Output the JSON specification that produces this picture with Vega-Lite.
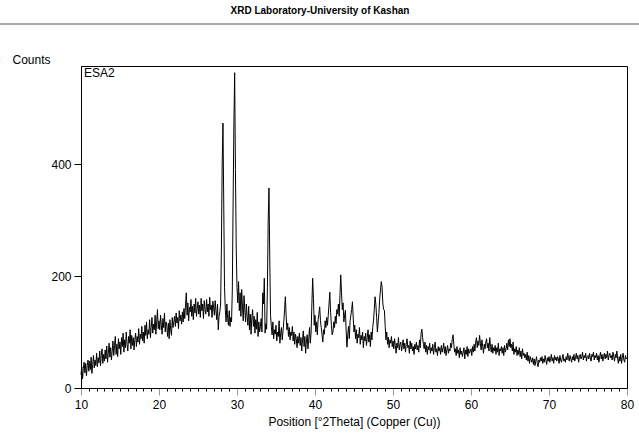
{
  "$schema": "https://vega.github.io/schema/vega-lite/v6.json",
  "autosize": "none",
  "width": 546,
  "height": 322,
  "padding": {"left": 81, "top": 66, "right": 12, "bottom": 59},
  "background": "white",
  "title": {
    "text": "XRD Laboratory-University of Kashan",
    "font": "Liberation Sans",
    "fontSize": 10,
    "fontWeight": "bold",
    "color": "black",
    "anchor": "middle",
    "dx": -34,
    "offset": 8
  },
  "config": {
    "view": {"stroke": "black", "strokeWidth": 1},
    "axis": {
      "grid": false,
      "domainColor": "black",
      "tickColor": "black",
      "labelColor": "black",
      "titleColor": "black",
      "labelFont": "Liberation Sans",
      "titleFont": "Liberation Sans",
      "labelFontSize": 12,
      "titleFontSize": 12,
      "titleFontWeight": "normal"
    }
  },
  "datasets": {
    "scan": [
      {"t":10.0,"c":24},{"t":10.1,"c":38},{"t":10.2,"c":16},{"t":10.3,"c":35},{"t":10.4,"c":46},{"t":10.5,"c":27},{"t":10.6,"c":44},{"t":10.7,"c":22},{"t":10.8,"c":40},{"t":10.9,"c":50},
      {"t":11.0,"c":30},{"t":11.1,"c":48},{"t":11.2,"c":33},{"t":11.3,"c":55},{"t":11.4,"c":26},{"t":11.5,"c":42},{"t":11.6,"c":58},{"t":11.7,"c":36},{"t":11.8,"c":50},{"t":11.9,"c":40},
      {"t":12.0,"c":62},{"t":12.1,"c":38},{"t":12.2,"c":54},{"t":12.3,"c":45},{"t":12.4,"c":66},{"t":12.5,"c":40},{"t":12.6,"c":58},{"t":12.7,"c":70},{"t":12.8,"c":44},{"t":12.9,"c":60},
      {"t":13.0,"c":48},{"t":13.1,"c":68},{"t":13.2,"c":52},{"t":13.3,"c":75},{"t":13.4,"c":46},{"t":13.5,"c":62},{"t":13.6,"c":80},{"t":13.7,"c":55},{"t":13.8,"c":72},{"t":13.9,"c":50},
      {"t":14.0,"c":66},{"t":14.1,"c":84},{"t":14.2,"c":58},{"t":14.3,"c":76},{"t":14.4,"c":92},{"t":14.5,"c":60},{"t":14.6,"c":78},{"t":14.7,"c":56},{"t":14.8,"c":88},{"t":14.9,"c":70},
      {"t":15.0,"c":82},{"t":15.1,"c":60},{"t":15.2,"c":90},{"t":15.3,"c":74},{"t":15.4,"c":98},{"t":15.5,"c":64},{"t":15.6,"c":86},{"t":15.7,"c":72},{"t":15.8,"c":100},{"t":15.9,"c":78},
      {"t":16.0,"c":66},{"t":16.1,"c":92},{"t":16.2,"c":80},{"t":16.3,"c":104},{"t":16.4,"c":70},{"t":16.5,"c":94},{"t":16.6,"c":76},{"t":16.7,"c":90},{"t":16.8,"c":68},{"t":16.9,"c":86},
      {"t":17.0,"c":98},{"t":17.1,"c":74},{"t":17.2,"c":92},{"t":17.3,"c":82},{"t":17.4,"c":106},{"t":17.5,"c":78},{"t":17.6,"c":96},{"t":17.7,"c":88},{"t":17.8,"c":110},{"t":17.9,"c":84},
      {"t":18.0,"c":100},{"t":18.1,"c":80},{"t":18.2,"c":112},{"t":18.3,"c":94},{"t":18.4,"c":118},{"t":18.5,"c":88},{"t":18.6,"c":104},{"t":18.7,"c":96},{"t":18.8,"c":122},{"t":18.9,"c":90},
      {"t":19.0,"c":108},{"t":19.1,"c":126},{"t":19.2,"c":98},{"t":19.3,"c":114},{"t":19.4,"c":104},{"t":19.5,"c":130},{"t":19.6,"c":96},{"t":19.7,"c":118},{"t":19.8,"c":140},{"t":19.9,"c":106},
      {"t":20.0,"c":120},{"t":20.1,"c":104},{"t":20.2,"c":130},{"t":20.3,"c":112},{"t":20.4,"c":96},{"t":20.5,"c":124},{"t":20.6,"c":108},{"t":20.7,"c":134},{"t":20.8,"c":100},{"t":20.9,"c":118},
      {"t":21.0,"c":110},{"t":21.1,"c":92},{"t":21.2,"c":116},{"t":21.3,"c":88},{"t":21.4,"c":122},{"t":21.5,"c":104},{"t":21.6,"c":94},{"t":21.7,"c":126},{"t":21.8,"c":108},{"t":21.9,"c":118},
      {"t":22.0,"c":128},{"t":22.1,"c":110},{"t":22.2,"c":134},{"t":22.3,"c":116},{"t":22.4,"c":126},{"t":22.5,"c":106},{"t":22.6,"c":138},{"t":22.7,"c":120},{"t":22.8,"c":130},{"t":22.9,"c":114},
      {"t":23.0,"c":136},{"t":23.1,"c":118},{"t":23.2,"c":142},{"t":23.3,"c":124},{"t":23.4,"c":148},{"t":23.5,"c":170},{"t":23.6,"c":130},{"t":23.7,"c":152},{"t":23.8,"c":120},{"t":23.9,"c":144},
      {"t":24.0,"c":136},{"t":24.1,"c":158},{"t":24.2,"c":128},{"t":24.3,"c":146},{"t":24.4,"c":122},{"t":24.5,"c":150},{"t":24.6,"c":134},{"t":24.7,"c":160},{"t":24.8,"c":128},{"t":24.9,"c":142},
      {"t":25.0,"c":154},{"t":25.1,"c":132},{"t":25.2,"c":148},{"t":25.3,"c":126},{"t":25.4,"c":160},{"t":25.5,"c":138},{"t":25.6,"c":150},{"t":25.7,"c":124},{"t":25.8,"c":156},{"t":25.9,"c":140},
      {"t":26.0,"c":132},{"t":26.1,"c":158},{"t":26.2,"c":136},{"t":26.3,"c":150},{"t":26.4,"c":128},{"t":26.5,"c":162},{"t":26.6,"c":140},{"t":26.7,"c":148},{"t":26.8,"c":126},{"t":26.9,"c":155},
      {"t":27.0,"c":144},{"t":27.1,"c":130},{"t":27.2,"c":156},{"t":27.3,"c":138},{"t":27.4,"c":122},{"t":27.5,"c":150},{"t":27.6,"c":104},{"t":27.7,"c":128},{"t":27.8,"c":136},{"t":27.9,"c":150},
      {"t":28.0,"c":250},{"t":28.1,"c":400},{"t":28.2,"c":473},{"t":28.3,"c":330},{"t":28.4,"c":180},{"t":28.5,"c":140},{"t":28.6,"c":118},{"t":28.7,"c":150},{"t":28.8,"c":124},{"t":28.9,"c":112},
      {"t":29.0,"c":138},{"t":29.1,"c":110},{"t":29.2,"c":126},{"t":29.3,"c":118},{"t":29.4,"c":175},{"t":29.5,"c":330},{"t":29.6,"c":470},{"t":29.7,"c":563},{"t":29.8,"c":390},{"t":29.9,"c":250},
      {"t":30.0,"c":180},{"t":30.1,"c":152},{"t":30.2,"c":190},{"t":30.3,"c":138},{"t":30.4,"c":170},{"t":30.5,"c":128},{"t":30.6,"c":176},{"t":30.7,"c":146},{"t":30.8,"c":120},{"t":30.9,"c":165},
      {"t":31.0,"c":140},{"t":31.1,"c":118},{"t":31.2,"c":150},{"t":31.3,"c":128},{"t":31.4,"c":112},{"t":31.5,"c":146},{"t":31.6,"c":104},{"t":31.7,"c":132},{"t":31.8,"c":96},{"t":31.9,"c":125},
      {"t":32.0,"c":140},{"t":32.1,"c":110},{"t":32.2,"c":128},{"t":32.3,"c":98},{"t":32.4,"c":122},{"t":32.5,"c":105},{"t":32.6,"c":135},{"t":32.7,"c":92},{"t":32.8,"c":118},{"t":32.9,"c":100},
      {"t":33.0,"c":110},{"t":33.1,"c":124},{"t":33.2,"c":100},{"t":33.3,"c":170},{"t":33.4,"c":150},{"t":33.5,"c":196},{"t":33.6,"c":98},{"t":33.7,"c":115},{"t":33.8,"c":105},{"t":33.9,"c":180},
      {"t":34.0,"c":300},{"t":34.1,"c":357},{"t":34.2,"c":230},{"t":34.3,"c":130},{"t":34.4,"c":110},{"t":34.5,"c":95},{"t":34.6,"c":118},{"t":34.7,"c":88},{"t":34.8,"c":104},{"t":34.9,"c":96},
      {"t":35.0,"c":112},{"t":35.1,"c":84},{"t":35.2,"c":100},{"t":35.3,"c":92},{"t":35.4,"c":120},{"t":35.5,"c":80},{"t":35.6,"c":98},{"t":35.7,"c":108},{"t":35.8,"c":86},{"t":35.9,"c":102},
      {"t":36.0,"c":118},{"t":36.1,"c":140},{"t":36.2,"c":163},{"t":36.3,"c":130},{"t":36.4,"c":104},{"t":36.5,"c":116},{"t":36.6,"c":92},{"t":36.7,"c":108},{"t":36.8,"c":86},{"t":36.9,"c":100},
      {"t":37.0,"c":94},{"t":37.1,"c":110},{"t":37.2,"c":84},{"t":37.3,"c":100},{"t":37.4,"c":78},{"t":37.5,"c":96},{"t":37.6,"c":88},{"t":37.7,"c":72},{"t":37.8,"c":92},{"t":37.9,"c":80},
      {"t":38.0,"c":98},{"t":38.1,"c":76},{"t":38.2,"c":90},{"t":38.3,"c":66},{"t":38.4,"c":86},{"t":38.5,"c":102},{"t":38.6,"c":74},{"t":38.7,"c":92},{"t":38.8,"c":62},{"t":38.9,"c":84},
      {"t":39.0,"c":95},{"t":39.1,"c":70},{"t":39.2,"c":88},{"t":39.3,"c":108},{"t":39.4,"c":80},{"t":39.5,"c":100},{"t":39.6,"c":150},{"t":39.7,"c":196},{"t":39.8,"c":160},{"t":39.9,"c":112},
      {"t":40.0,"c":130},{"t":40.1,"c":100},{"t":40.2,"c":118},{"t":40.3,"c":95},{"t":40.4,"c":122},{"t":40.5,"c":132},{"t":40.6,"c":145},{"t":40.7,"c":120},{"t":40.8,"c":108},{"t":40.9,"c":96},
      {"t":41.0,"c":82},{"t":41.1,"c":104},{"t":41.2,"c":96},{"t":41.3,"c":120},{"t":41.4,"c":108},{"t":41.5,"c":126},{"t":41.6,"c":112},{"t":41.7,"c":130},{"t":41.8,"c":150},{"t":41.9,"c":171},
      {"t":42.0,"c":135},{"t":42.1,"c":112},{"t":42.2,"c":95},{"t":42.3,"c":100},{"t":42.4,"c":118},{"t":42.5,"c":108},{"t":42.6,"c":128},{"t":42.7,"c":115},{"t":42.8,"c":140},{"t":42.9,"c":132},
      {"t":43.0,"c":150},{"t":43.1,"c":128},{"t":43.2,"c":165},{"t":43.3,"c":202},{"t":43.4,"c":170},{"t":43.5,"c":140},{"t":43.6,"c":152},{"t":43.7,"c":118},{"t":43.8,"c":130},{"t":43.9,"c":139},
      {"t":44.0,"c":100},{"t":44.1,"c":73},{"t":44.2,"c":96},{"t":44.3,"c":110},{"t":44.4,"c":88},{"t":44.5,"c":120},{"t":44.6,"c":130},{"t":44.7,"c":140},{"t":44.8,"c":154},{"t":44.9,"c":125},
      {"t":45.0,"c":100},{"t":45.1,"c":112},{"t":45.2,"c":88},{"t":45.3,"c":104},{"t":45.4,"c":80},{"t":45.5,"c":96},{"t":45.6,"c":90},{"t":45.7,"c":108},{"t":45.8,"c":78},{"t":45.9,"c":94},
      {"t":46.0,"c":86},{"t":46.1,"c":100},{"t":46.2,"c":72},{"t":46.3,"c":92},{"t":46.4,"c":84},{"t":46.5,"c":98},{"t":46.6,"c":76},{"t":46.7,"c":90},{"t":46.8,"c":104},{"t":46.9,"c":82},
      {"t":47.0,"c":95},{"t":47.1,"c":74},{"t":47.2,"c":100},{"t":47.3,"c":86},{"t":47.4,"c":108},{"t":47.5,"c":120},{"t":47.6,"c":140},{"t":47.7,"c":163},{"t":47.8,"c":150},{"t":47.9,"c":126},
      {"t":48.0,"c":100},{"t":48.1,"c":118},{"t":48.2,"c":135},{"t":48.3,"c":160},{"t":48.4,"c":175},{"t":48.5,"c":190},{"t":48.6,"c":180},{"t":48.7,"c":150},{"t":48.8,"c":140},{"t":48.9,"c":139},
      {"t":49.0,"c":110},{"t":49.1,"c":86},{"t":49.2,"c":100},{"t":49.3,"c":78},{"t":49.4,"c":91},{"t":49.5,"c":72},{"t":49.6,"c":86},{"t":49.7,"c":80},{"t":49.8,"c":92},{"t":49.9,"c":74},
      {"t":50.0,"c":84},{"t":50.1,"c":70},{"t":50.2,"c":88},{"t":50.3,"c":76},{"t":50.4,"c":62},{"t":50.5,"c":80},{"t":50.6,"c":72},{"t":50.7,"c":90},{"t":50.8,"c":68},{"t":50.9,"c":78},
      {"t":51.0,"c":82},{"t":51.1,"c":66},{"t":51.2,"c":76},{"t":51.3,"c":86},{"t":51.4,"c":70},{"t":51.5,"c":80},{"t":51.6,"c":64},{"t":51.7,"c":78},{"t":51.8,"c":88},{"t":51.9,"c":72},
      {"t":52.0,"c":76},{"t":52.1,"c":62},{"t":52.2,"c":84},{"t":52.3,"c":70},{"t":52.4,"c":80},{"t":52.5,"c":66},{"t":52.6,"c":74},{"t":52.7,"c":60},{"t":52.8,"c":78},{"t":52.9,"c":70},
      {"t":53.0,"c":82},{"t":53.1,"c":68},{"t":53.2,"c":76},{"t":53.3,"c":64},{"t":53.4,"c":86},{"t":53.5,"c":72},{"t":53.6,"c":98},{"t":53.7,"c":105},{"t":53.8,"c":90},{"t":53.9,"c":78},
      {"t":54.0,"c":70},{"t":54.1,"c":82},{"t":54.2,"c":64},{"t":54.3,"c":76},{"t":54.4,"c":60},{"t":54.5,"c":74},{"t":54.6,"c":68},{"t":54.7,"c":80},{"t":54.8,"c":62},{"t":54.9,"c":72},
      {"t":55.0,"c":66},{"t":55.1,"c":78},{"t":55.2,"c":60},{"t":55.3,"c":72},{"t":55.4,"c":82},{"t":55.5,"c":64},{"t":55.6,"c":70},{"t":55.7,"c":58},{"t":55.8,"c":74},{"t":55.9,"c":66},
      {"t":56.0,"c":72},{"t":56.1,"c":60},{"t":56.2,"c":76},{"t":56.3,"c":64},{"t":56.4,"c":70},{"t":56.5,"c":80},{"t":56.6,"c":62},{"t":56.7,"c":74},{"t":56.8,"c":58},{"t":56.9,"c":68},
      {"t":57.0,"c":76},{"t":57.1,"c":62},{"t":57.2,"c":70},{"t":57.3,"c":66},{"t":57.4,"c":80},{"t":57.5,"c":72},{"t":57.6,"c":88},{"t":57.7,"c":95},{"t":57.8,"c":78},{"t":57.9,"c":64},
      {"t":58.0,"c":70},{"t":58.1,"c":58},{"t":58.2,"c":74},{"t":58.3,"c":62},{"t":58.4,"c":68},{"t":58.5,"c":54},{"t":58.6,"c":72},{"t":58.7,"c":60},{"t":58.8,"c":66},{"t":58.9,"c":56},
      {"t":59.0,"c":64},{"t":59.1,"c":72},{"t":59.2,"c":52},{"t":59.3,"c":68},{"t":59.4,"c":60},{"t":59.5,"c":74},{"t":59.6,"c":56},{"t":59.7,"c":70},{"t":59.8,"c":62},{"t":59.9,"c":66},
      {"t":60.0,"c":70},{"t":60.1,"c":58},{"t":60.2,"c":74},{"t":60.3,"c":64},{"t":60.4,"c":78},{"t":60.5,"c":66},{"t":60.6,"c":82},{"t":60.7,"c":90},{"t":60.8,"c":72},{"t":60.9,"c":84},
      {"t":61.0,"c":76},{"t":61.1,"c":94},{"t":61.2,"c":80},{"t":61.3,"c":68},{"t":61.4,"c":86},{"t":61.5,"c":74},{"t":61.6,"c":62},{"t":61.7,"c":78},{"t":61.8,"c":70},{"t":61.9,"c":82},
      {"t":62.0,"c":88},{"t":62.1,"c":72},{"t":62.2,"c":80},{"t":62.3,"c":66},{"t":62.4,"c":90},{"t":62.5,"c":74},{"t":62.6,"c":64},{"t":62.7,"c":78},{"t":62.8,"c":62},{"t":62.9,"c":72},
      {"t":63.0,"c":66},{"t":63.1,"c":76},{"t":63.2,"c":60},{"t":63.3,"c":72},{"t":63.4,"c":64},{"t":63.5,"c":80},{"t":63.6,"c":58},{"t":63.7,"c":70},{"t":63.8,"c":66},{"t":63.9,"c":74},
      {"t":64.0,"c":62},{"t":64.1,"c":72},{"t":64.2,"c":58},{"t":64.3,"c":76},{"t":64.4,"c":64},{"t":64.5,"c":70},{"t":64.6,"c":80},{"t":64.7,"c":68},{"t":64.8,"c":86},{"t":64.9,"c":74},
      {"t":65.0,"c":88},{"t":65.1,"c":72},{"t":65.2,"c":78},{"t":65.3,"c":66},{"t":65.4,"c":82},{"t":65.5,"c":60},{"t":65.6,"c":70},{"t":65.7,"c":64},{"t":65.8,"c":74},{"t":65.9,"c":58},
      {"t":66.0,"c":68},{"t":66.1,"c":60},{"t":66.2,"c":72},{"t":66.3,"c":56},{"t":66.4,"c":66},{"t":66.5,"c":52},{"t":66.6,"c":70},{"t":66.7,"c":58},{"t":66.8,"c":62},{"t":66.9,"c":54},
      {"t":67.0,"c":60},{"t":67.1,"c":50},{"t":67.2,"c":64},{"t":67.3,"c":48},{"t":67.4,"c":58},{"t":67.5,"c":44},{"t":67.6,"c":56},{"t":67.7,"c":50},{"t":67.8,"c":46},{"t":67.9,"c":54},
      {"t":68.0,"c":42},{"t":68.1,"c":52},{"t":68.2,"c":40},{"t":68.3,"c":48},{"t":68.4,"c":56},{"t":68.5,"c":44},{"t":68.6,"c":38},{"t":68.7,"c":50},{"t":68.8,"c":46},{"t":68.9,"c":54},
      {"t":69.0,"c":48},{"t":69.1,"c":56},{"t":69.2,"c":44},{"t":69.3,"c":52},{"t":69.4,"c":46},{"t":69.5,"c":58},{"t":69.6,"c":50},{"t":69.7,"c":42},{"t":69.8,"c":54},{"t":69.9,"c":48},
      {"t":70.0,"c":56},{"t":70.1,"c":46},{"t":70.2,"c":52},{"t":70.3,"c":60},{"t":70.4,"c":48},{"t":70.5,"c":54},{"t":70.6,"c":44},{"t":70.7,"c":58},{"t":70.8,"c":50},{"t":70.9,"c":55},
      {"t":71.0,"c":48},{"t":71.1,"c":56},{"t":71.2,"c":52},{"t":71.3,"c":44},{"t":71.4,"c":58},{"t":71.5,"c":50},{"t":71.6,"c":46},{"t":71.7,"c":54},{"t":71.8,"c":60},{"t":71.9,"c":48},
      {"t":72.0,"c":52},{"t":72.1,"c":46},{"t":72.2,"c":56},{"t":72.3,"c":50},{"t":72.4,"c":62},{"t":72.5,"c":54},{"t":72.6,"c":48},{"t":72.7,"c":58},{"t":72.8,"c":52},{"t":72.9,"c":46},
      {"t":73.0,"c":56},{"t":73.1,"c":50},{"t":73.2,"c":60},{"t":73.3,"c":48},{"t":73.4,"c":54},{"t":73.5,"c":62},{"t":73.6,"c":52},{"t":73.7,"c":58},{"t":73.8,"c":46},{"t":73.9,"c":56},
      {"t":74.0,"c":60},{"t":74.1,"c":52},{"t":74.2,"c":56},{"t":74.3,"c":64},{"t":74.4,"c":50},{"t":74.5,"c":58},{"t":74.6,"c":54},{"t":74.7,"c":62},{"t":74.8,"c":48},{"t":74.9,"c":56},
      {"t":75.0,"c":58},{"t":75.1,"c":52},{"t":75.2,"c":62},{"t":75.3,"c":54},{"t":75.4,"c":48},{"t":75.5,"c":60},{"t":75.6,"c":56},{"t":75.7,"c":64},{"t":75.8,"c":50},{"t":75.9,"c":58},
      {"t":76.0,"c":54},{"t":76.1,"c":62},{"t":76.2,"c":50},{"t":76.3,"c":58},{"t":76.4,"c":46},{"t":76.5,"c":56},{"t":76.6,"c":64},{"t":76.7,"c":52},{"t":76.8,"c":60},{"t":76.9,"c":48},
      {"t":77.0,"c":56},{"t":77.1,"c":62},{"t":77.2,"c":52},{"t":77.3,"c":60},{"t":77.4,"c":54},{"t":77.5,"c":66},{"t":77.6,"c":50},{"t":77.7,"c":58},{"t":77.8,"c":62},{"t":77.9,"c":54},
      {"t":78.0,"c":58},{"t":78.1,"c":50},{"t":78.2,"c":64},{"t":78.3,"c":56},{"t":78.4,"c":48},{"t":78.5,"c":60},{"t":78.6,"c":54},{"t":78.7,"c":66},{"t":78.8,"c":52},{"t":78.9,"c":44},
      {"t":79.0,"c":56},{"t":79.1,"c":48},{"t":79.2,"c":60},{"t":79.3,"c":44},{"t":79.4,"c":54},{"t":79.5,"c":62},{"t":79.6,"c":50},{"t":79.7,"c":46},{"t":79.8,"c":58},{"t":79.9,"c":52},
      {"t":80.0,"c":54}
    ],
    "caption": [{"label": "ESA2"}]
  },
  "layer": [
    {
      "data": {"name": "scan"},
      "mark": {"type": "line", "color": "black", "strokeWidth": 1, "interpolate": "linear"},
      "encoding": {
        "x": {
          "field": "t",
          "type": "quantitative",
          "scale": {"domain": [10, 80], "nice": false, "zero": false},
          "axis": {
            "title": "Position [°2Theta] (Copper (Cu))",
            "values": [10,11,12,13,14,15,16,17,18,19,20,21,22,23,24,25,26,27,28,29,30,31,32,33,34,35,36,37,38,39,40,41,42,43,44,45,46,47,48,49,50,51,52,53,54,55,56,57,58,59,60,61,62,63,64,65,66,67,68,69,70,71,72,73,74,75,76,77,78,79,80],
            "tickCount": 100,
            "format": "d",
            "labelExpr": "datum.value % 10 === 0 ? datum.label : ''",
            "labelOverlap": false,
            "labelFlush": false,
            "tickSize": {"condition": {"test": "datum.value % 10 === 0", "value": 7}, "value": 3},
            "tickColor": {"condition": {"test": "datum.value % 10 === 0", "value": "#999999"}, "value": "black"},
            "labelPadding": 4,
            "titlePadding": 6
          }
        },
        "y": {
          "field": "c",
          "type": "quantitative",
          "scale": {"domain": [0, 575], "nice": false},
          "axis": {
            "title": "Counts",
            "values": [0, 200, 400],
            "format": "d",
            "tickSize": 7,
            "labelPadding": 3,
            "titleAngle": 0,
            "titleAlign": "left",
            "titleBaseline": "middle",
            "titleX": -69,
            "titleY": -7
          }
        }
      }
    },
    {
      "data": {"name": "caption"},
      "mark": {"type": "text", "align": "left", "baseline": "top", "dx": 3, "dy": 2, "font": "Liberation Sans", "fontSize": 12, "color": "black", "clip": false},
      "encoding": {
        "x": {"datum": 10},
        "y": {"datum": 575},
        "text": {"field": "label"}
      }
    },
    {
      "data": {"name": "caption"},
      "mark": {"type": "rule", "color": "#555555", "strokeWidth": 1, "clip": false},
      "encoding": {
        "x": {"datum": -0.4},
        "x2": {"datum": 81.6},
        "y": {"datum": 650}
      }
    }
  ]
}
